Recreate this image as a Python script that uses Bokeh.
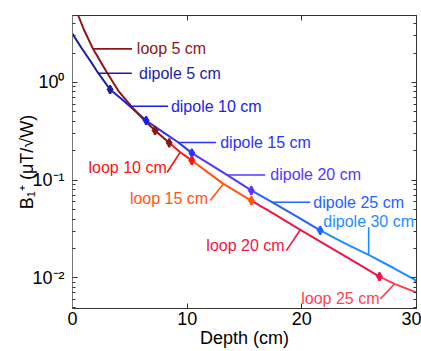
import numpy as np
from bokeh.plotting import figure
from bokeh.models import (ColumnDataSource, LinearAxis, LogAxis, Range1d,
                          FixedTicker, CustomJSTickFormatter)
from bokeh.core.properties import value
from bokeh.embed import file_html
from bokeh.resources import INLINE

# ---------------- data ----------------
dipole_depth = [0.0, 0.8, 1.53, 2.25, 3.28, 4.2, 5.0, 6.42, 7.8, 9.24, 10.41,
                12.0, 13.47, 15.59, 17.4, 19.5, 21.6, 23.8, 25.83, 28.0, 30.0]
dipole_b1 = [3.15, 2.24, 1.68, 1.245, 0.847, 0.69, 0.571, 0.408, 0.316, 0.243,
             0.189, 0.145, 0.113, 0.0785, 0.0594, 0.0427, 0.0306, 0.0224,
             0.0172, 0.0126, 0.00933]

loop_depth = [0.0, 0.5, 1.0, 1.79, 2.99, 4.0, 5.1, 6.2, 7.2, 8.43, 9.39, 10.41,
              11.8, 13.17, 15.59, 17.5, 19.87, 22.5, 24.8, 26.77, 28.08, 30.0]
loop_b1 = [6.9, 4.85, 3.47, 2.21, 1.27, 0.822, 0.575, 0.417, 0.323, 0.241,
           0.193, 0.159, 0.12, 0.0916, 0.0618, 0.0457, 0.031, 0.0204, 0.0141,
           0.0103, 0.00867, 0.00708]

dipole_coils = ["dipole 5 cm", "dipole 10 cm", "dipole 15 cm", "dipole 20 cm",
                "dipole 25 cm", "dipole 30 cm"]
dipole_segment_end = [3.28, 6.42, 10.41, 15.59, 21.6, 30.0]
dipole_marker_depth = [3.28, 6.42, 10.41, 15.59, 21.6, 30.1]
dipole_marker_b1 = [0.847, 0.408, 0.189, 0.0785, 0.0306, 0.0092]

loop_coils = ["loop 5 cm", "loop 10 cm", "loop 15 cm", "loop 20 cm", "loop 25 cm"]
loop_segment_end = [8.43, 10.41, 15.59, 26.77, 30.0]
loop_marker_coil = ["loop 5 cm", "loop 5 cm", "loop 10 cm", "loop 15 cm", "loop 20 cm"]
loop_marker_depth = [7.2, 8.43, 10.41, 15.59, 26.77]
loop_marker_b1 = [0.323, 0.241, 0.159, 0.0618, 0.0103]

# annotation labels
label_text = ["loop 5 cm", "dipole 5 cm", "dipole 10 cm", "dipole 15 cm",
              "dipole 20 cm", "dipole 25 cm", "dipole 30 cm",
              "loop 10 cm", "loop 15 cm", "loop 20 cm", "loop 25 cm"]
label_curve = ["loop", "dipole", "dipole", "dipole", "dipole", "dipole", "dipole",
               "loop", "loop", "loop", "loop"]
label_touch_depth = [1.79, 2.25, 5.0, 9.24, 13.47, 17.4, 25.83, 9.39, 13.17, 19.87, 28.08]
leader_end_depth = [5.20, 5.17, 8.34, 12.53, 16.81, 20.74, 25.83, 8.25, 12.01, 18.65, 26.86]
leader_end_b1 = [None, None, None, None, None, None, 0.0329, 0.1197, 0.0618, 0.019, 0.00608]
label_x = [5.61, 5.81, 8.58, 12.88, 17.25, 21.0, 25.83, 8.22, 11.83, 18.5, 26.77]
label_y = [None, None, None, None, None, None, 0.0379, 0.1356, 0.0643, 0.0214, 0.00617]
label_align = ["left"] * 6 + ["center"] + ["right"] * 4

x_ticks = [0, 10, 20, 30]
y_ticks = [0.01, 0.1, 1.0]
y_tick_labels = ["10\u207b\u00b2", "10\u207b\u00b9", "10\u2070"]

# ---------------- styles ----------------
colors = {
    "loop 5 cm": "#8c1616",
    "loop 10 cm": "#ff1010",
    "loop 15 cm": "#ff5512",
    "loop 20 cm": "#ee1448",
    "loop 25 cm": "#ff4252",
    "dipole 5 cm": "#1c1ca6",
    "dipole 10 cm": "#1c1ce8",
    "dipole 15 cm": "#2f2fff",
    "dipole 20 cm": "#5a33ff",
    "dipole 25 cm": "#2262ff",
    "dipole 30 cm": "#1e8cff",
}
FONT = "Liberation Sans"
AX = "#333333"

p = figure(width=421, height=351, x_range=Range1d(0, 30),
           y_range=Range1d(0.00485, 4.85), y_axis_type="log",
           output_backend="svg", toolbar_location=None,
           min_border_left=72, min_border_right=5, min_border_top=15,
           min_border_bottom=43)
p.grid.visible = False
p.outline_line_color = AX
p.background_fill_color = "white"


def segment(depth, b1, a, b):
    d = np.asarray(depth, float)
    lv = np.log10(np.asarray(b1, float))
    inner = d[(d > a) & (d < b)]
    xs = np.concatenate([[a], inner, [b]])
    return xs, 10 ** np.interp(xs, d, lv)


def curve_at(name, x):
    d, b = (loop_depth, loop_b1) if name == "loop" else (dipole_depth, dipole_b1)
    return float(10 ** np.interp(x, d, np.log10(b)))


# curves, coloured by optimal coil size
start = 0.0
for coil, end in zip(dipole_coils, dipole_segment_end):
    xs, ys = segment(dipole_depth, dipole_b1, start, end)
    p.line(xs, ys, line_color=colors[coil], line_width=2)
    start = end
start = 0.0
for coil, end in zip(loop_coils, loop_segment_end):
    xs, ys = segment(loop_depth, loop_b1, start, end)
    p.line(xs, ys, line_color=colors[coil], line_width=2)
    start = end

# markers (optimal depths)
mk = ColumnDataSource(dict(
    x=dipole_marker_depth + loop_marker_depth,
    y=dipole_marker_b1 + loop_marker_b1,
    y0=[v * 0.9 for v in dipole_marker_b1 + loop_marker_b1],
    y1=[v * 1.1 for v in dipole_marker_b1 + loop_marker_b1],
    c=[colors[c] for c in dipole_coils] + [colors[c] for c in loop_marker_coil],
))
p.segment(x0="x", y0="y0", x1="x", y1="y1", line_color="c", line_width=2.5, source=mk)
p.scatter(x="x", y="y", marker="diamond", size=9, fill_color="c", line_color="c", source=mk)

# leaders and labels
lx0, ly0, lx1, ly1, tx, ty, tc = [], [], [], [], [], [], []
for i, t in enumerate(label_text):
    y_touch = curve_at(label_curve[i], label_touch_depth[i])
    y_end = leader_end_b1[i] if leader_end_b1[i] is not None else y_touch
    lx0.append(label_touch_depth[i]); ly0.append(y_touch)
    lx1.append(leader_end_depth[i]); ly1.append(y_end)
    tx.append(label_x[i])
    ty.append(label_y[i] if label_y[i] is not None else y_end)
    tc.append(colors[t])
src = ColumnDataSource(dict(x0=lx0, y0=ly0, x1=lx1, y1=ly1, tx=tx, ty=ty,
                            text=label_text, c=tc, align=label_align))
p.segment(x0="x0", y0="y0", x1="x1", y1="y1", line_color="c", line_width=1.6, source=src)
p.text(x="tx", y="ty", text="text", text_color="c", text_align="align",
       text_baseline="middle", text_font=value(FONT), text_font_size="16px",
       source=src)

# axes
minor_y = [m * 10.0 ** e for e in range(-3, 1) for m in range(2, 10)]
for ax in (p.xaxis[0], p.yaxis[0]):
    ax.axis_line_color = AX
    ax.major_tick_line_color = AX
    ax.minor_tick_line_color = AX
    ax.major_tick_in = 5
    ax.major_tick_out = 0
    ax.minor_tick_in = 3
    ax.minor_tick_out = 0
    ax.major_label_text_font = FONT
    ax.major_label_text_font_size = "18px"
    ax.major_label_text_color = "black"
    ax.axis_label_text_font = FONT
    ax.axis_label_text_font_size = "18px"
    ax.axis_label_text_font_style = "normal"
    ax.axis_label_text_color = "black"

p.xaxis[0].ticker = FixedTicker(ticks=x_ticks)
p.xaxis[0].minor_tick_line_color = None
p.xaxis[0].axis_label = "Depth (cm)"
p.xaxis[0].major_label_standoff = 3
p.xaxis[0].axis_label_standoff = 0

p.yaxis[0].ticker = FixedTicker(ticks=y_ticks, minor_ticks=minor_y)
p.yaxis[0].major_label_overrides = dict(zip(y_ticks, y_tick_labels))
p.yaxis[0].axis_label = "B\u2081\u207a (\u03bcT/\u221aW)"
p.yaxis[0].axis_line_color = "#777777"
p.yaxis[0].major_label_standoff = 8
p.yaxis[0].axis_label_standoff = -8

blank = CustomJSTickFormatter(code="return ''")
top = LinearAxis(ticker=FixedTicker(ticks=x_ticks), formatter=blank,
                 major_tick_in=5, major_tick_out=0, minor_tick_line_color=None,
                 major_label_standoff=0, major_label_text_font_size="0px",
                 axis_line_color=AX, major_tick_line_color=AX)
right = LogAxis(ticker=FixedTicker(ticks=y_ticks, minor_ticks=minor_y),
                formatter=blank, major_tick_in=5, major_tick_out=0,
                minor_tick_in=3, minor_tick_out=0, major_label_standoff=0,
                major_label_text_font_size="0px",
                axis_line_color=AX, major_tick_line_color=AX,
                minor_tick_line_color=AX)
p.add_layout(top, "above")
p.add_layout(right, "right")

open("out.html", "w").write(file_html(p, INLINE))
